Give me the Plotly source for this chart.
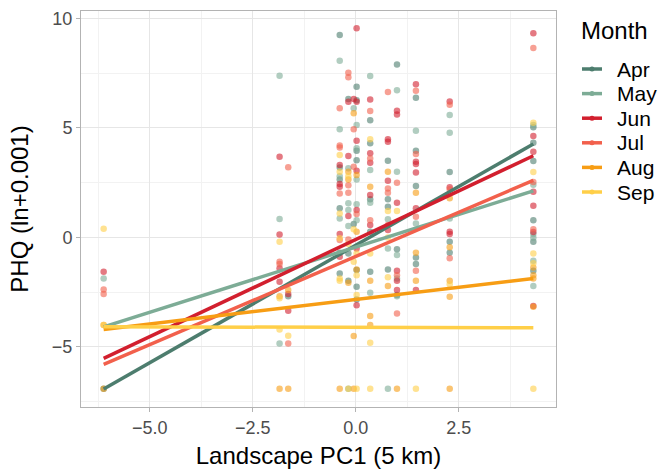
import plotly.graph_objects as go

# Landscape PC1 values of the sampling sites
site_pc1 = [-6.12, -1.85, -1.64, -0.39, -0.18, -0.05, 0.02, 0.35, 0.78, 1.0, 1.46, 2.28, 4.31]

months = ["Apr", "May", "Jun", "Jul", "Aug", "Sep"]
colors = ["#4d7d6e", "#7dac96", "#d21f2e", "#f2604c", "#f79d14", "#ffcf48"]

# site index / PHQ value per month
apr_site = [0, 2, 3, 3, 3, 3, 3, 3, 4, 4, 4, 5, 6, 6, 6, 6, 6, 6, 6, 7, 7, 7, 7, 7, 8, 8, 8, 8,
            9, 9, 9, 10, 10, 10, 10, 10, 11, 11, 11, 12, 12, 12, 12, 12, 12]
apr_phq = [-6.91, -2.68, 9.24, 3.2, 2.65, 1.33, -0.7, -1.64, 6.32, -0.73, -1.98, 0.61,
           6.88, 6.27, 3.96, 3.53, -1.49, -2.25, -2.83, 5.35, 4.3, 1.74, 0.26, -1.57,
           3.5, 1.74, 1.4, -1.46, 7.9, -0.54, -2.63, 6.38, 3.96, 2.35, -0.91, -1.21,
           2.99, -0.2, -0.7, 5.03, 4.32, 3.49, 0.79, -0.2, -1.52]

may_site = [0, 1, 1, 1, 3, 3, 3, 3, 4, 4, 4, 4, 4, 5, 6, 6, 6, 6, 6, 7, 7, 7, 7, 8, 8, 8,
            9, 9, 9, 9, 9, 10, 10, 11, 11, 11, 12, 12, 12, 12, 12, 12]
may_phq = [-1.87, 7.38, 0.84, -4.84, 8.07, 4.94, 2.8, 0.87, 3.16, 1.56, 1.25, 0.52, -6.91,
           5.9, 5.13, 4.07, 2.65, 1.52, 0.79, 7.37, 3.08, 1.58, -2.52, 0.83, -0.5, -6.91,
           6.72, 3.0, -0.8, -1.87, -2.68, 4.87, 0.64, 5.59, 4.78, 0.87,
           5.13, 2.41, 0.16, -0.01, -1.06, -2.22]

jun_site = [0, 1, 1, 1, 1, 2, 2, 3, 3, 3, 3, 3, 4, 4, 4, 5, 6, 6, 6, 6, 6, 6, 6,
            7, 7, 7, 7, 7, 8, 8, 8, 8, 9, 9, 9, 9, 9, 9, 10, 10, 10, 10, 10, 10,
            11, 11, 11, 11, 12, 12, 12, 12, 12, 12, 12]
jun_phq = [-1.57, 3.69, 0.14, -1.41, -2.02, -2.58, -3.35, 3.31, 2.44, 2.32, 0.16, -0.88,
           6.2, 3.72, 0.98, 6.32, 9.55, 6.2, 4.42, 3.05, 1.25, -0.5, -3.09,
           6.3, 3.84, 3.41, 1.94, 0.57, 4.49, 4.37, 2.59, 0.34,
           5.79, 5.62, 1.58, -1.52, -1.98, -2.4, 7.0, 3.46, 3.35, 2.97, 1.33, -2.4,
           6.21, 2.29, 0.26, 0.16, 9.32, 4.63, 3.91, 2.09, 1.45, 0.25, -3.13]

jul_site = [0, 0, 1, 1, 2, 2, 3, 3, 3, 3, 3, 4, 4, 4, 4, 4, 5, 5, 6, 7, 7, 7,
            8, 8, 8, 8, 9, 9, 9, 10, 10, 10, 10, 11, 11, 11, 12, 12, 12]
jul_phq = [-2.37, -2.58, -1.11, -1.21, 3.21, -4.84, 5.9, 4.2, 4.11, 2.01, -0.12,
           7.52, 7.31, 2.39, 2.04, -0.09, 4.94, 3.23, 1.07, 5.77, 3.61, 0.79,
           6.64, 2.24, 2.04, 0.57, 2.5, -1.72, -3.47, 6.7, 3.81, 0.95, -1.52,
           6.06, 2.2, -0.95, 8.65, 2.53, 0.37]

aug_site = [0, 0, 1, 1, 2, 2, 3, 4, 4, 4, 5, 5, 5, 6, 6, 6, 7, 7, 7, 7, 8, 8, 9,
            10, 10, 10, 11, 11, 11, 11, 11, 12, 12, 12, 12]
aug_phq = [-6.91, -4.0, -2.68, -6.91, -2.4, -6.91, -6.91, 3.0, 2.65, -2.07, 5.67, -4.5, -6.91,
           2.85, 0.26, -1.46, 2.32, -1.98, -3.59, -4.0, 3.0, -2.22, -6.91,
           2.04, -0.7, -1.98, 1.79, -0.45, -1.98, -2.71, -6.91, -1.37, -1.72, -1.87, -3.16]

sep_site = [0, 0, 1, 1, 1, 2, 3, 3, 3, 3, 3, 3, 4, 4, 4, 5, 5, 6, 6, 6, 6,
            7, 7, 7, 7, 8, 8, 8, 9, 10, 11, 12, 12, 12, 12, 12]
sep_phq = [0.4, -4.0, -0.2, -2.78, -4.2, -4.49, 3.76, 3.0, 1.1, -0.04, -1.87, -1.98,
           2.8, -0.3, -6.91, 0.37, -1.11, -0.73, -1.72, -2.63, -6.91,
           4.49, -0.73, -4.81, -6.91, 1.21, 0.0, -1.82, 1.21, -6.91, -2.13,
           5.24, 2.99, -0.73, -1.18, -6.91]

# linear fit per month (intercept, slope)
fit_intercept = [-0.353, -0.437, -0.092, -0.865, -2.833, -4.103]
fit_slope = [1.073, 0.595, 0.887, 0.806, 0.223, -0.004]

sites = [apr_site, may_site, jun_site, jul_site, aug_site, sep_site]
phqs = [apr_phq, may_phq, jun_phq, jul_phq, aug_phq, sep_phq]

FONT = "Liberation Sans, Arial, sans-serif"
W, H = 664, 475
ML, MR, MT, MB = 81, 108, 11, 68
PW, PH = W - ML - MR, H - MT - MB

fig = go.Figure()

for m, c, s, v in zip(months, colors, sites, phqs):
    fig.add_trace(go.Scatter(
        x=[site_pc1[i] for i in s], y=v, mode="markers",
        marker=dict(color=c, size=6.5, opacity=0.6, line=dict(width=0)),
        showlegend=False, hoverinfo="skip"))

for m, c, s, b0, b1 in zip(months, colors, sites, fit_intercept, fit_slope):
    xs = [site_pc1[i] for i in s]
    x0, x1 = min(xs), max(xs)
    fig.add_trace(go.Scatter(
        x=[x0, x1], y=[b0 + b1 * x0, b0 + b1 * x1], mode="lines",
        line=dict(color=c, width=3.5), name=m, showlegend=False, hoverinfo="skip"))

# legend drawn by hand (ggplot-like spacing)
def px(xp):
    return (xp - ML) / PW

def py(yp):
    return (H - MB - yp) / PH

annotations = [dict(text="Month", x=px(579), y=py(31), xref="paper", yref="paper",
                    xanchor="left", yanchor="middle", showarrow=False,
                    font=dict(family=FONT, size=24, color="black"))]
shapes = []
for i, (m, c) in enumerate(zip(months, colors)):
    yc = 69 + 24.6 * i
    shapes.append(dict(type="line", xref="paper", yref="paper",
                       x0=px(582), x1=px(602), y0=py(yc), y1=py(yc),
                       line=dict(color=c, width=3.5)))
    shapes.append(dict(type="circle", xref="paper", yref="paper",
                       x0=px(589.5), x1=px(594.5), y0=py(yc - 2.5), y1=py(yc + 2.5),
                       fillcolor=c, line=dict(width=0)))
    annotations.append(dict(text=m, x=px(615), y=py(yc), xref="paper", yref="paper",
                            xanchor="left", yanchor="middle", showarrow=False,
                            font=dict(family=FONT, size=21, color="black")))

axis_common = dict(
    showline=True, mirror=True, linecolor="#b3b3b3", linewidth=1,
    showgrid=True, gridcolor="#e6e6e6", gridwidth=1,
    zeroline=False, ticks="outside", ticklen=4, tickcolor="#b3b3b3",
    tickfont=dict(family=FONT, size=18, color="#4d4d4d"),
)

fig.update_layout(
    width=W, height=H,
    margin=dict(l=ML, r=MR, t=MT, b=MB, autoexpand=False),
    plot_bgcolor="white", paper_bgcolor="white",
    font=dict(family=FONT, color="black"),
    showlegend=False,
    xaxis=dict(range=[-6.67, 4.86], tickvals=[-5, -2.5, 0, 2.5], tickformat=".1f",
               minor=dict(dtick=2.5, tick0=-6.25, showgrid=True, gridcolor="#f2f2f2", gridwidth=1, ticks=""),
               title=dict(text="Landscape PC1 (5 km)", font=dict(size=24), standoff=10),
               automargin=False, **axis_common),
    yaxis=dict(range=[-7.74, 10.34], tickvals=[-5, 0, 5, 10],
               minor=dict(dtick=5, tick0=-7.5, showgrid=True, gridcolor="#f2f2f2", gridwidth=1, ticks=""),
               title=dict(text="PHQ (ln+0.001)", font=dict(size=24), standoff=16),
               automargin=False, **axis_common),
    annotations=annotations,
    shapes=shapes,
)

fig.write_html("out.html")
